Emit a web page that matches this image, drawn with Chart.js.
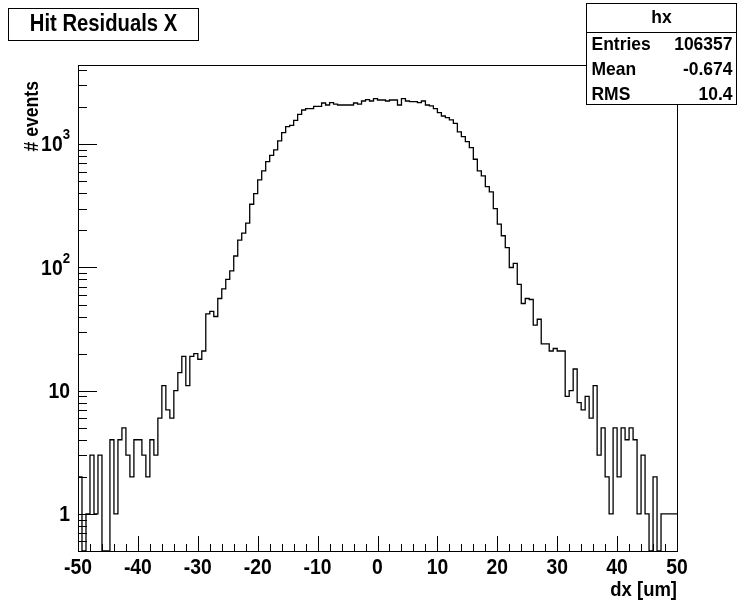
<!DOCTYPE html>
<html>
<head>
<meta charset="utf-8">
<script src="https://cdn.jsdelivr.net/npm/chart.js@4.4.1/dist/chart.umd.min.js"></script>
<style>
  body { margin: 0; background: #fff; }
  #wrap { width: 745px; height: 602px; }
</style>
</head>
<body>
<div id="wrap"><canvas id="chart"></canvas></div>
<script>
// hx : hit residuals in x, 150 bins between -50 and 50 um
const binLow = -50;
const binHigh = 50;
const counts = [
  2, 0, 1, 3, 1, 3, 0, 0, 4, 1,
  4, 5, 3, 2, 4, 4, 3, 2, 4, 3,
  6, 11, 7, 6, 10, 14, 19, 11, 19, 20,
  18, 21, 42, 44, 40, 56, 67, 80, 94, 124,
  167, 190, 229, 326, 398, 514, 608, 723, 814, 900,
  1064, 1244, 1391, 1426, 1566, 1751, 1898, 1946, 1946, 2032,
  2032, 2163, 2084, 2177, 2121, 2084, 2084, 2084, 2084, 2163,
  2121, 2246, 2300, 2246, 2346, 2288, 2288, 2246, 2288, 2288,
  2084, 2346, 2246, 2218, 2218, 2177, 2246, 2084, 2046, 1946,
  1806, 1697, 1645, 1575, 1480, 1259, 1154, 1051, 940, 756,
  608, 554, 454, 411, 301, 225, 181, 145, 100, 108,
  73, 51, 56, 55, 34, 38, 24, 24, 21, 22,
  21, 21, 9, 10, 15, 8, 7, 9, 6, 11,
  3, 5, 2, 1, 5, 2, 5, 4, 5, 4,
  1, 3, 1, 0, 2, 0, 1, 1, 1, 1
];
const xTicks = [-50, -40, -30, -20, -10, 0, 10, 20, 30, 40, 50];
const yTicks = [1, 10, 100, 1000];
const yTickLabels = [["1", ""], ["10", ""], ["10", "2"], ["10", "3"]];
const statLabels = ["Entries", "Mean", "RMS"];
const statValues = ["106357", "-0.674", "10.4"];
const histName = "hx";
const histTitle = "Hit Residuals X";
const xTitle = "dx [um]";
const yTitle = "# events";
const yMin = 0.5;
const yMax = 4400;

const FONT = '"Liberation Sans", Arial, Helvetica, sans-serif';
const SQUEEZE = 0.88;   // narrow bold look of the ROOT Helvetica

// step outline: one point per bin low edge, plus the upper edge of the last bin
const binWidth = (binHigh - binLow) / counts.length;
const points = counts.map((c, i) => ({ x: binLow + i * binWidth, y: c > 0 ? c : yMin }));
points.push({ x: binHigh, y: points[points.length - 1].y });

function font(size) {
  return "bold " + size + "px " + FONT;
}

// horizontally squeezed text, returns the drawn width
function text(ctx, str, x, y, size, align, sx) {
  sx = sx || SQUEEZE;
  ctx.save();
  ctx.font = font(size);
  ctx.textAlign = align;
  ctx.textBaseline = "middle";
  ctx.translate(x, y);
  ctx.scale(sx, 1);
  ctx.fillText(str, 0, 0);
  const w = ctx.measureText(str).width * sx;
  ctx.restore();
  return w;
}

// frame, inner ticks, labels, title and stats boxes in the ROOT style
const rootDecor = {
  id: "rootDecor",
  afterDraw(chart) {
    const ctx = chart.ctx;
    const area = chart.chartArea;
    const xs = chart.scales.x;
    const ys = chart.scales.y;
    ctx.save();
    ctx.strokeStyle = "#000";
    ctx.fillStyle = "#000";
    ctx.lineWidth = 1;

    ctx.strokeRect(area.left + 0.5, area.top + 0.5, area.right - area.left, area.bottom - area.top);

    // x ticks: majors every 10, minors every 2
    ctx.beginPath();
    for (let v = binLow; v <= binHigh; v += 2) {
      const px = Math.round(xs.getPixelForValue(v)) + 0.5;
      const len = v % 10 === 0 ? 15 : 7;
      ctx.moveTo(px, area.bottom);
      ctx.lineTo(px, area.bottom - len);
    }
    // y ticks: majors at decades, minors at 2..9
    for (let d = 0.1; d <= 1000; d *= 10) {
      for (let m = 1; m <= 9; m++) {
        const v = d * m;
        if (v < yMin || v > yMax) continue;
        const py = Math.round(ys.getPixelForValue(v)) + 0.5;
        const len = m === 1 ? 19 : 9;
        ctx.moveTo(area.left, py);
        ctx.lineTo(area.left + len, py);
      }
    }
    ctx.stroke();

    xTicks.forEach(v => {
      text(ctx, String(v), xs.getPixelForValue(v), area.bottom + 17, 22, "center");
    });

    yTicks.forEach((v, i) => {
      const py = ys.getPixelForValue(v);
      const [base, sup] = yTickLabels[i];
      let right = area.left - 8;
      if (sup) {
        right -= text(ctx, sup, right, py - 9, 15, "right");
      }
      text(ctx, base, right, py + 1, 22, "right");
    });

    text(ctx, xTitle, area.right, 590, 21, "right");

    ctx.save();
    ctx.translate(32, area.top + 16);
    ctx.rotate(-Math.PI / 2);
    text(ctx, yTitle, 0, 0, 20, "right");
    ctx.restore();

    // title box
    ctx.fillStyle = "#fff";
    ctx.fillRect(8.5, 8.5, 190, 32);
    ctx.strokeRect(8.5, 8.5, 190, 32);
    ctx.fillStyle = "#000";
    text(ctx, histTitle, 103.5, 25, 23, "center");

    // stats box
    const bx = 586.5, by = 3.5, bw = 150, bh = 101;
    ctx.fillStyle = "#fff";
    ctx.fillRect(bx, by, bw, bh);
    ctx.strokeRect(bx, by, bw, bh);
    ctx.beginPath();
    ctx.moveTo(bx, 32.5);
    ctx.lineTo(bx + bw, 32.5);
    ctx.stroke();
    ctx.fillStyle = "#000";
    text(ctx, histName, bx + bw / 2, 18, 19, "center", 0.92);
    statLabels.forEach((lab, i) => {
      const ty = 45 + i * 25;
      text(ctx, lab, bx + 5, ty, 19, "left", 0.92);
      text(ctx, statValues[i], bx + bw - 4, ty, 19, "right", 0.92);
    });
    ctx.restore();
  }
};

new Chart(document.getElementById("chart"), {
  type: "line",
  data: {
    datasets: [{
      label: histName,
      data: points,
      stepped: "before",
      borderColor: "#000",
      borderWidth: 1.3,
      pointRadius: 0,
      fill: false
    }]
  },
  options: {
    responsive: true,
    maintainAspectRatio: false,
    animation: false,
    layout: { padding: { left: 78, right: 68, top: 65, bottom: 51 } },
    scales: {
      x: { type: "linear", min: binLow, max: binHigh, display: false },
      y: { type: "logarithmic", min: yMin, max: yMax, display: false }
    },
    plugins: {
      legend: { display: false },
      tooltip: { enabled: false }
    }
  },
  plugins: [rootDecor]
});
</script>
</body>
</html>
